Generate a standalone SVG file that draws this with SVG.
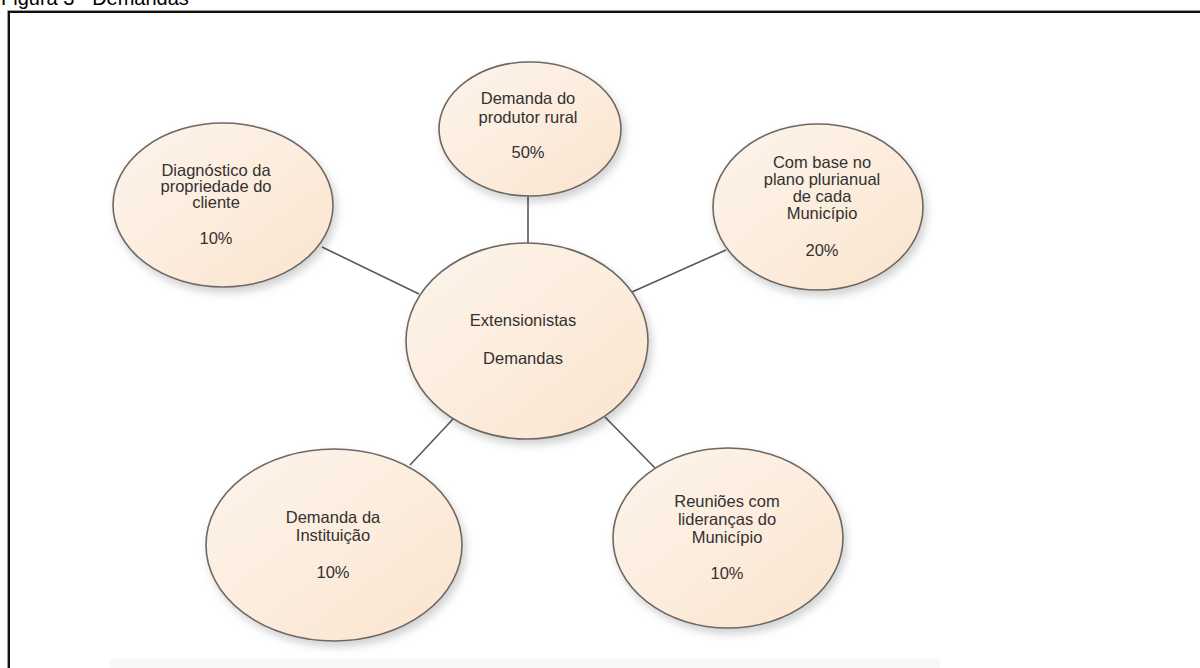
<svg xmlns="http://www.w3.org/2000/svg" width="1200" height="668" viewBox="0 0 1200 668">
  <defs>
    <linearGradient id="peach" x1="0" y1="0" x2="1" y2="1">
      <stop offset="0" stop-color="#fdf4ec"/>
      <stop offset="0.55" stop-color="#fcecdc"/>
      <stop offset="1" stop-color="#fae4cd"/>
    </linearGradient>
    <filter id="shadow" x="-20%" y="-20%" width="150%" height="150%">
      <feDropShadow dx="3" dy="5" stdDeviation="4" flood-color="#000" flood-opacity="0.18"/>
    </filter>
    <style>
      .bubble { fill: url(#peach); stroke: #6e6863; stroke-width: 1.6; filter: url(#shadow); }
      .link { stroke: #58585a; stroke-width: 1.6; fill: none; }
      .label { font-family: "Liberation Sans", Arial, sans-serif; font-size: 16.5px; fill: #333131; text-anchor: middle; }
      .caption { font-family: "Liberation Sans", Arial, sans-serif; font-size: 20px; fill: #000; }
    </style>
  </defs>

  <rect width="1200" height="668" fill="#ffffff"/>

  <!-- caption, running off the top edge -->
  <text class="caption" x="1" y="5">Figura 3 - Demandas</text>

  <!-- figure frame -->
  <path d="M 7.5 668 V 10.5 H 1200" fill="none" stroke="#9a9a9a" stroke-width="1"/>
  <path d="M 9 668 V 12 H 1200" fill="none" stroke="#111" stroke-width="2"/>

  <!-- faint band at the foot of the figure -->
  <rect x="110" y="659" width="830" height="9" fill="#f7f7f7"/>

  <!-- connectors -->
  <g id="connectors">
    <line class="link" x1="528" y1="196" x2="528" y2="243"/>
    <line class="link" x1="322" y1="247" x2="419" y2="294"/>
    <line class="link" x1="726" y1="250" x2="632" y2="292"/>
    <line class="link" x1="410" y1="465" x2="453" y2="419"/>
    <line class="link" x1="655" y1="468" x2="605" y2="417"/>
  </g>

  <g id="node-center">
    <ellipse class="bubble" cx="527" cy="341" rx="121" ry="98"/>
    <text class="label" x="523" y="326">Extensionistas</text>
    <text class="label" x="523" y="364">Demandas</text>
  </g>

  <g id="node-produtor">
    <ellipse class="bubble" cx="530" cy="129" rx="91" ry="67"/>
    <text class="label" x="528" y="104">Demanda do</text>
    <text class="label" x="528" y="123">produtor rural</text>
    <text class="label" x="528" y="158">50%</text>
  </g>

  <g id="node-diagnostico">
    <ellipse class="bubble" cx="223" cy="205" rx="110" ry="82"/>
    <text class="label" x="216" y="176">Diagnóstico da</text>
    <text class="label" x="216" y="192">propriedade do</text>
    <text class="label" x="216" y="208">cliente</text>
    <text class="label" x="216" y="244">10%</text>
  </g>

  <g id="node-plano">
    <ellipse class="bubble" cx="818" cy="207" rx="105" ry="83"/>
    <text class="label" x="822" y="168">Com base no</text>
    <text class="label" x="822" y="185">plano  plurianual</text>
    <text class="label" x="822" y="202">de cada</text>
    <text class="label" x="822" y="219">Município</text>
    <text class="label" x="822" y="256">20%</text>
  </g>

  <g id="node-instituicao">
    <ellipse class="bubble" cx="334" cy="545" rx="128" ry="96"/>
    <text class="label" x="333" y="523">Demanda da</text>
    <text class="label" x="333" y="541">Instituição</text>
    <text class="label" x="333" y="578">10%</text>
  </g>

  <g id="node-reunioes">
    <ellipse class="bubble" cx="728" cy="538" rx="115" ry="90"/>
    <text class="label" x="727" y="507">Reuniões com</text>
    <text class="label" x="727" y="525">lideranças do</text>
    <text class="label" x="727" y="543">Município</text>
    <text class="label" x="727" y="579">10%</text>
  </g>
</svg>
